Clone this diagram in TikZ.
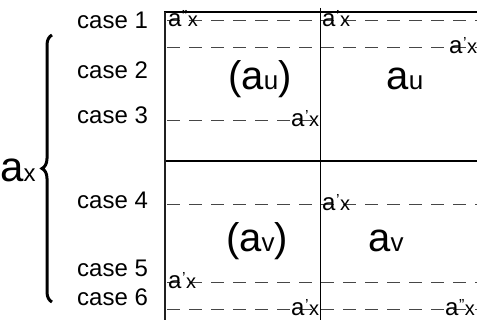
\documentclass[tikz,border=0pt]{standalone}
\usepackage{fontspec}
\setmainfont{Liberation Sans}
\usetikzlibrary{
  decorations.pathreplacing % brace on the left
}
\tikzset{
  frame line/.style={
    line width=2pt,
    color=black
  },
  cell line/.style={
    line width=1pt,
    color=black
  },
  case line/.style={
    dash pattern=on 13pt off 9pt,
    line width=1pt,
    color=gray!55!black
  },
  case label/.style={
    anchor=west,
    inner sep=0pt,
    font=\fontsize{24}{27}\selectfont
  },
  shift label/.style={
    anchor=base west,
    inner sep=0pt
  },
  area label/.style={
    anchor=base,
    inner sep=0pt,
    font=\fontsize{40}{42}\selectfont
  }
}
\newcommand{\shiftedx}[1]{{\fontsize{24}{26}\selectfont a\kern0.5pt\raisebox{5pt}{\fontsize{16}{16}\selectfont #1}\kern0.5pt\fontsize{20}{22}\selectfont x}}
\newcommand{\areaof}[1]{a{\fontsize{26}{28}\selectfont #1}}

\begin{document}
\begin{tikzpicture}[x=1pt, y=-1pt] % one unit = one pixel of the reference, y grows downwards
  \useasboundingbox (0,0) rectangle (477,320); % fix the page to the reference size
  \clip (0,0) rectangle (477,320); % the grid runs off the right and bottom edges

  % grid corners
  \coordinate (TL) at (165,12);    % top left corner of the grid
  \coordinate (TR) at (482,12);    % top edge, past the right border
  \coordinate (BL) at (165,324);   % left edge, past the bottom border
  \coordinate (MT) at (320,8);     % top of the middle divider
  \coordinate (MB) at (320,324);   % bottom of the middle divider

  % dashed case lines
  \foreach \y in {21,48,205,283,310}
    \draw[case line] (167,\y) -- (482,\y); % full width rows
  \draw[case line] (167,121) -- (320,121); % case 3 row stops at the divider

  % grid lines
  \draw[cell line, line width=1.3pt] (165,161) -- (482,161); % split between u and v
  \draw[cell line] (MT) -- (MB);   % middle divider
  \draw[frame line] (164,12) -- (TR); % top edge
  \draw[frame line, line width=2.3pt, gray!25!black] (TL) -- (BL); % left edge

  % shift labels on the case lines
  \node[shift label] (s1l) at (168,27)  {\shiftedx{''}};
  \node[shift label] (s1r) at (322,27)  {\shiftedx{'}};
  \node[shift label] (s2r) at (449,54)  {\shiftedx{'}};
  \node[shift label] (s3l) at (291,127) {\shiftedx{'}};
  \node[shift label] (s4r) at (322,211) {\shiftedx{'}};
  \node[shift label] (s5l) at (168,289) {\shiftedx{'}};
  \node[shift label] (s6l) at (291,316) {\shiftedx{'}};
  \node[shift label] (s6r) at (445,316) {\shiftedx{''}};

  % area labels
  \node[area label] (aul) at (260,90)  {(\areaof{u})};
  \node[area label] (aur) at (405,90)  {\areaof{u}};
  \node[area label] (avl) at (257,252) {(\areaof{v})};
  \node[area label] (avr) at (386,252) {\areaof{v}};

  % case names
  \node[case label] (c1) at (77,20)  {case 1};
  \node[case label] (c2) at (77,70)  {case 2};
  \node[case label] (c3) at (77,115) {case 3};
  \node[case label] (c4) at (77,200) {case 4};
  \node[case label] (c5) at (77,268) {case 5};
  \node[case label] (c6) at (77,297) {case 6};

  % brace with a_x
  \draw[decorate, decoration={brace, amplitude=10pt}, line width=3pt] (52,302) -- (52,35); % brace over all cases
  \node[shift label] (ax) at (0,182) {{\fontsize{42}{44}\selectfont a}{\fontsize{24}{26}\selectfont x}};
\end{tikzpicture}
\end{document}
